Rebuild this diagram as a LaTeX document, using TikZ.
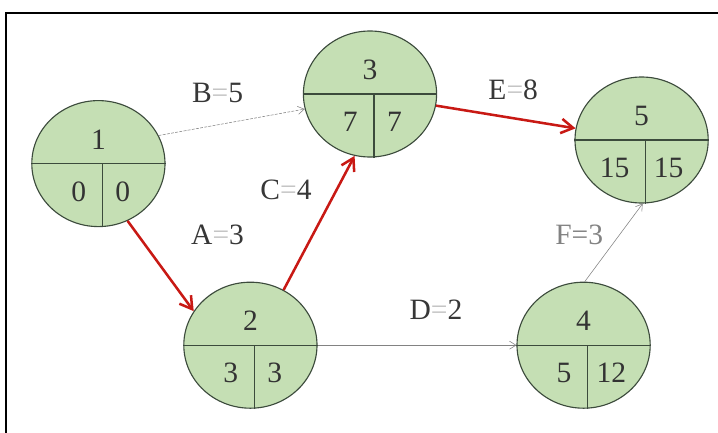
\documentclass[tikz,border=0pt]{standalone}
\usepackage{fontspec}
\setmainfont{Liberation Serif}
\usetikzlibrary{arrows.meta, positioning, calc, shapes.geometric}
\definecolor{EventGreen}{RGB}{197, 223, 180}
\definecolor{EventLine}{RGB}{60, 75, 60}
\definecolor{CritRed}{RGB}{200, 25, 20}
\definecolor{ArcGray}{RGB}{130, 130, 130}
\definecolor{TagDark}{RGB}{55, 55, 55}
\definecolor{TagLight}{RGB}{195, 195, 195}

\begin{document}
\begin{tikzpicture}[
  event/.style={
    ellipse, draw=EventLine, fill=EventGreen, line width=0.8pt,
    minimum width=3.33cm, minimum height=3.15cm, inner sep=0pt
  },
  num/.style={font=\fontsize{21}{25}\selectfont, text=black!80, inner sep=0pt},
  tag/.style={font=\fontsize{21}{25}\selectfont, text=TagDark},
  div/.style={draw=EventLine, line width=0.8pt},
  crit/.style={-{Straight Barb[length=3mm, width=3.6mm]}, line width=1.8pt, color=CritRed},
  arc/.style={-{Straight Barb[length=1.6mm, width=2mm]}, line width=0.4pt, color=ArcGray}
]
  \useasboundingbox (0,0) rectangle (17.95,-10.825);
  \draw[line width=1.1pt] (0.15,-10.825) -- (0.15,-0.325) -- (17.95,-0.325);

  % events
  \node[event] (n1) at (2.46,-4.09)  {};
  \node[event] (n2) at (6.26,-8.63)  {};
  \node[event] (n3) at (9.25,-2.35)  {};
  \node[event] (n4) at (14.59,-8.63) {};
  \node[event] (n5) at (16.04,-3.5)  {};

  \draw[div] (n1.west) -- (n1.east);
  \draw[div] ([xshift=1mm]n1.center) -- ([xshift=1mm]n1.south);
  \draw[div] (n2.west) -- (n2.east);
  \draw[div] ([xshift=1mm]n2.center) -- ([xshift=1mm]n2.south);
  \draw[div] (n3.west) -- (n3.east);
  \draw[div] ([xshift=1mm]n3.center) -- ([xshift=1mm]n3.south);
  \draw[div] (n4.west) -- (n4.east);
  \draw[div] ([xshift=1mm]n4.center) -- ([xshift=1mm]n4.south);
  \draw[div] (n5.west) -- (n5.east);
  \draw[div] ([xshift=1mm]n5.center) -- ([xshift=1mm]n5.south);

  \node[num] (n1t) at ([yshift=6mm]n1.center) {1};
  \node[num, anchor=east] (n1l) at ([xshift=-3mm, yshift=-7mm]n1.center) {0};
  \node[num, anchor=west] (n1r) at ([xshift=4.2mm, yshift=-7mm]n1.center) {0};
  \node[num] (n2t) at ([yshift=6mm]n2.center) {2};
  \node[num, anchor=east] (n2l) at ([xshift=-3mm, yshift=-7mm]n2.center) {3};
  \node[num, anchor=west] (n2r) at ([xshift=4.2mm, yshift=-7mm]n2.center) {3};
  \node[num] (n3t) at ([yshift=6mm]n3.center) {3};
  \node[num, anchor=east] (n3l) at ([xshift=-3mm, yshift=-7mm]n3.center) {7};
  \node[num, anchor=west] (n3r) at ([xshift=4.2mm, yshift=-7mm]n3.center) {7};
  \node[num] (n4t) at ([yshift=6mm]n4.center) {4};
  \node[num, anchor=east] (n4l) at ([xshift=-3mm, yshift=-7mm]n4.center) {5};
  \node[num, anchor=west] (n4r) at ([xshift=3.2mm, yshift=-7mm]n4.center) {12};
  \node[num] (n5t) at ([yshift=6mm]n5.center) {5};
  \node[num, anchor=east] (n5l) at ([xshift=-3mm, yshift=-7mm]n5.center) {15};
  \node[num, anchor=west] (n5r) at ([xshift=3mm, yshift=-7mm]n5.center) {15};

  % activities
  \draw[crit] (n1.-63) -- (n2.149);
  \draw[arc, dash pattern=on 2pt off 1pt] (n1.25) -- (n3.193);
  \draw[crit] (n2.59) -- (n3.-104);
  \draw[arc] (n2.east) -- (n4.west);
  \draw[crit] (n3.-10) -- (n5.170);
  \draw[arc] (n4.89) -- (n5.-89);

  \node[tag] (tagA) at (5.44,-5.88)  {A{\color{TagLight}=}3};
  \node[tag] (tagB) at (5.44,-2.33)  {B{\color{TagLight}=}5};
  \node[tag] (tagC) at (7.15,-4.75)  {C{\color{TagLight}=}4};
  \node[tag] (tagD) at (10.9,-7.75)  {D{\color{TagLight}=}2};
  \node[tag] (tagE) at (12.83,-2.25) {E{\color{TagLight}=}8};
  \node[tag, text=ArcGray] (tagF) at (14.48,-5.88) {F=3};
\end{tikzpicture}
\end{document}
